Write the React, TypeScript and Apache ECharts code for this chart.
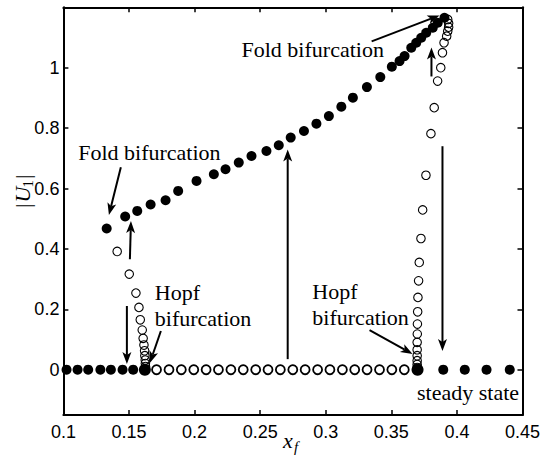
import React, { useEffect, useRef } from "react";
import * as echarts from "echarts";

// ---- data ----
const yTickValues = [0, 0.2, 0.4, 0.6, 0.8, 1];

// steady state, stable (filled), |U1| = 0
const stableLowLeftX = [0.1024, 0.1108, 0.1189, 0.1282, 0.1362, 0.1451, 0.1532];
const stableLowRightX = [0.3896, 0.406, 0.4226, 0.4403];
// steady state, unstable (hollow), |U1| = 0
const unstableLowX = [
  0.171, 0.1805, 0.1899, 0.1994, 0.2088, 0.2182, 0.2277, 0.2371, 0.2466, 0.256,
  0.2654, 0.2749, 0.2843, 0.2938, 0.3032, 0.3127, 0.3221, 0.3315, 0.341, 0.3504, 0.3599,
];
// Hopf points
const hopfX = [0.1621, 0.37];

// stable limit cycle branch (filled)
const upperStableX = [
  0.133, 0.1471, 0.1563, 0.1665, 0.1779, 0.1875, 0.2015, 0.2147, 0.2236, 0.2337,
  0.2434, 0.2548, 0.2642, 0.2733, 0.2834, 0.2929, 0.3024, 0.3119, 0.3207, 0.3314,
  0.3416, 0.3504, 0.3563, 0.3601, 0.3652, 0.369, 0.3728, 0.3766, 0.3816, 0.3854, 0.3905,
];
const upperStableY = [
  0.4676, 0.5073, 0.5258, 0.547, 0.5612, 0.5919, 0.625, 0.6472, 0.6637, 0.6858,
  0.7077, 0.7242, 0.7431, 0.7685, 0.7903, 0.8148, 0.8399, 0.871, 0.9008, 0.9358,
  0.9689, 1.0033, 1.0218, 1.0384, 1.0661, 1.0827, 1.0992, 1.1157, 1.1323, 1.1488, 1.1653,
];

// unstable limit cycle branches (hollow)
const leftUnstableX = [
  0.141, 0.1502, 0.1553, 0.1576, 0.1586, 0.1601, 0.1608, 0.1614, 0.1619, 0.1621, 0.1624, 0.1625, 0.1626,
];
const leftUnstableY = [
  0.3915, 0.3165, 0.2536, 0.2063, 0.1653, 0.1313, 0.1038, 0.0817, 0.0628, 0.0463, 0.0321, 0.0205, 0.0106,
];
const rightUnstableX = [
  0.393, 0.3937, 0.3937, 0.393, 0.3922, 0.3902, 0.389, 0.3877, 0.3853, 0.3827, 0.3802,
  0.3764, 0.3739, 0.3726, 0.3713, 0.3708, 0.3703, 0.3701, 0.3699, 0.3698, 0.3697,
  0.3697, 0.3697, 0.3697, 0.3697, 0.3697,
];
const rightUnstableY = [
  1.1597, 1.1468, 1.1343, 1.121, 1.1045, 1.0827, 1.0496, 1.0, 0.9557, 0.8677, 0.7817,
  0.6438, 0.5291, 0.4345, 0.3552, 0.2943, 0.2394, 0.1918, 0.1511, 0.1181, 0.0906,
  0.0661, 0.0463, 0.0298, 0.0172, 0.0073,
];

// annotation arrows [x1, y1, x2, y2] in data coordinates (tip at x2, y2)
const arrows = [
  [0.335, 1.087, 0.3867, 1.173],
  [0.3806, 0.971, 0.3806, 1.067],
  [0.389, 0.74, 0.389, 0.062],
  [0.271, 0.035, 0.271, 0.729],
  [0.1438, 0.67, 0.1347, 0.512],
  [0.1507, 0.366, 0.1515, 0.492],
  [0.1484, 0.211, 0.1484, 0.019],
  [0.1743, 0.128, 0.1659, 0.022],
  [0.3334, 0.131, 0.3662, 0.052],
];

// annotation texts: [text, x, baselineY, align]
const notes: [string, number, number, string][] = [
  ["Fold bifurcation", 0.2358, 1.0364, "left"],
  ["Fold bifurcation", 0.1113, 0.6968, "left"],
  ["Hopf", 0.1697, 0.2338, "left"],
  ["bifurcation", 0.1697, 0.1455, "left"],
  ["Hopf", 0.2898, 0.2361, "left"],
  ["bifurcation", 0.2898, 0.1511, "left"],
  ["steady state", 0.4474, -0.0969, "right"],
];

const zip = (xs: number[], ys: number[]) => xs.map((x, i) => [x, ys[i]]);
const onZero = (xs: number[]) => xs.map((x) => [x, 0]);

const SERIF = "'Liberation Serif', 'Times New Roman', serif";
const SANS = "'Liberation Sans', Arial, sans-serif";
const FS = 22;

export default function App() {
  const ref = useRef<HTMLDivElement>(null);
  useEffect(() => {
    if (!ref.current) return;
    const chart = echarts.init(ref.current, null, { renderer: "svg" });
    const axisLine = { show: true, onZero: false, lineStyle: { color: "#000", width: 2 } };
    const tickStyle = { inside: true, length: 5, lineStyle: { color: "#000", width: 1.5 } };
    const labelStyle = { color: "#000", fontFamily: SANS, fontSize: 18 };
    const filled = { color: "#000", opacity: 1 };
    const hollow = (w: number) => ({ color: "rgba(0,0,0,0)", borderColor: "#000", borderWidth: w, opacity: 1 });

    const option: any = {
      animation: false,
      backgroundColor: "#fff",
      grid: { left: 63.4, top: 7.3, width: 459.6, height: 407.7, containLabel: false },
      xAxis: [
        {
          type: "value", min: 0.1, max: 0.45, interval: 0.05, position: "bottom",
          axisLine, axisTick: tickStyle, splitLine: { show: false },
          axisLabel: { ...labelStyle, margin: 8 },
        },
        {
          type: "value", min: 0.1, max: 0.45, interval: 0.05, position: "top",
          axisLine, axisTick: tickStyle, splitLine: { show: false }, axisLabel: { show: false },
        },
      ],
      yAxis: [
        {
          type: "value", min: -0.15, max: 1.2, position: "left",
          axisLine, axisTick: { ...tickStyle, customValues: yTickValues }, splitLine: { show: false },
          axisLabel: { ...labelStyle, margin: 4, customValues: yTickValues },
        },
        {
          type: "value", min: -0.15, max: 1.2, position: "right",
          axisLine, axisTick: { ...tickStyle, customValues: yTickValues }, splitLine: { show: false },
          axisLabel: { show: false, customValues: yTickValues },
        },
      ],
      series: [
        { type: "scatter", symbolSize: 9, itemStyle: hollow(1.8), data: onZero(unstableLowX), silent: true },
        { type: "scatter", symbolSize: 8.5, itemStyle: hollow(1.1), data: zip(leftUnstableX, leftUnstableY), silent: true },
        { type: "scatter", symbolSize: 8.5, itemStyle: hollow(1.1), data: zip(rightUnstableX, rightUnstableY), silent: true },
        { type: "scatter", symbolSize: 10, itemStyle: filled, data: onZero(stableLowLeftX), silent: true },
        { type: "scatter", symbolSize: 10, itemStyle: filled, data: onZero(stableLowRightX), silent: true },
        { type: "scatter", symbolSize: 10, itemStyle: filled, data: zip(upperStableX, upperStableY), silent: true },
        { type: "scatter", symbolSize: 12, itemStyle: filled, data: onZero(hopfX), silent: true },
        {
          type: "custom", silent: true, clip: false, data: arrows,
          encode: { x: [0, 2], y: [1, 3] },
          renderItem: (_p: any, api: any) => {
            const p1 = api.coord([api.value(0), api.value(1)]);
            const p2 = api.coord([api.value(2), api.value(3)]);
            const dx = p2[0] - p1[0], dy = p2[1] - p1[1];
            const len = Math.hypot(dx, dy) || 1;
            const ux = dx / len, uy = dy / len;
            const L = 12, W = 4.5, N = 3;
            const bx = p2[0] - ux * L, by = p2[1] - uy * L;
            const nx = -uy, ny = ux;
            const notch = [p2[0] - ux * (L - N), p2[1] - uy * (L - N)];
            return {
              type: "group",
              children: [
                { type: "line", shape: { x1: p1[0], y1: p1[1], x2: notch[0], y2: notch[1] }, style: { stroke: "#000", lineWidth: 2 } },
                { type: "polygon", shape: { points: [p2, [bx + nx * W, by + ny * W], notch, [bx - nx * W, by - ny * W]] }, style: { fill: "#000" } },
              ],
            };
          },
        },
      ],
    };
    chart.setOption(option);

    const mid = (fs: number) => 0.31 * fs;
    const noteEls = notes.map(([t, x, y, align]) => {
      const p = chart.convertToPixel({ gridIndex: 0 }, [x, y]) as number[];
      return {
        type: "text", x: p[0], y: p[1] - mid(FS), silent: true,
        style: { text: t, fill: "#000", fontFamily: SERIF, fontSize: FS, align, verticalAlign: "middle" },
      };
    });
    const txt = (t: string, x: number, y: number, fs: number, italic: boolean) => ({
      type: "text", x, y: y - mid(fs), silent: true,
      style: {
        text: t, fill: "#000", fontFamily: SERIF, fontSize: fs, fontStyle: italic ? "italic" : "normal",
        align: "left", verticalAlign: "middle",
      },
    });
    const xLabel = { type: "group", x: 0, y: 0, children: [txt("x", 283, 447, FS, true), txt("f", 294, 452, 15, true)] };
    const yLabel = {
      type: "group", x: 29, y: 208, rotation: Math.PI / 2,
      children: [txt("|", 0, 0, FS, false), txt("U", 5.5, 0, FS, true), txt("1", 20.5, 4, 15, false), txt("|", 29, 0, FS, false)],
    };
    chart.setOption({ graphic: [...noteEls, xLabel, yLabel] });
    return () => chart.dispose();
  }, []);
  return <div ref={ref} style={{ position: "fixed", left: 0, top: 0, width: 543, height: 460 }} />;
}
